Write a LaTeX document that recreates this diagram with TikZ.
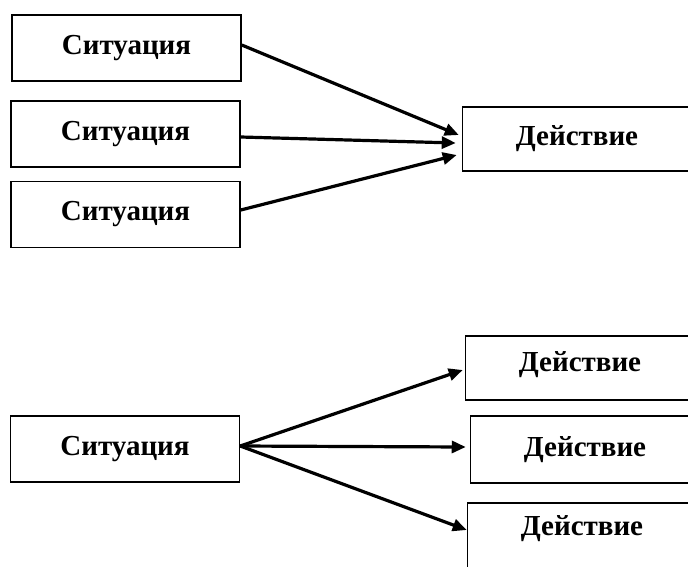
\documentclass[tikz,border=0pt]{standalone}
\usepackage{fontspec}
\setmainfont{Liberation Serif}
\usetikzlibrary{arrows.meta}
\tikzset{
  box/.style={draw=black, line width=1.5pt, fill=white, minimum width=229pt, minimum height=66pt,
    inner sep=0pt, font=\fontsize{29}{32}\selectfont\bfseries},
  arr/.style={line width=3.2pt, -{Triangle[length=14pt,width=12pt]}},
}
\begin{document}
\begin{tikzpicture}[x=1pt,y=-1pt]
\clip (0,0) rectangle (688,566);
\fill[white] (0,0) rectangle (688,566);
% top group
\node[box] (s1) at (126.5,48) {Ситуация};
\node[box] (s2) at (125.5,134) {Ситуация};
\node[box] (s3) at (125.5,214.5) {Ситуация};
\node[box, minimum height=64pt] (d0) at (577,139) {Действие};
\draw[arr] ([yshift=3pt]s1.east) -- ([xshift=-3pt,yshift=4pt]d0.west);
\draw[arr] ([yshift=-3pt]s2.east) -- ([xshift=-6pt,yshift=-4pt]d0.west);
\draw[arr] ([yshift=4.5pt]s3.east) -- ([xshift=-5pt,yshift=-16pt]d0.west);
% bottom group
\node[box] (s4) at (125,449) {Ситуация};
\node[box, minimum height=64pt, text depth=12pt] (d1) at (580,368) {Действие};
\node[box, minimum height=67pt] (d2) at (585,449.5) {Действие};
\node[box, minimum height=66pt, text depth=20pt] (d3) at (582,536) {Действие};
\coordinate (o) at ([yshift=3pt]s4.east);
\draw[arr] (o) -- ([xshift=-2pt,yshift=-2pt]d1.west);
\draw[arr] (o) -- ([xshift=-4pt,yshift=2.5pt]d2.west);
\draw[arr] (o) -- ([yshift=6pt]d3.west);
\end{tikzpicture}
\end{document}
